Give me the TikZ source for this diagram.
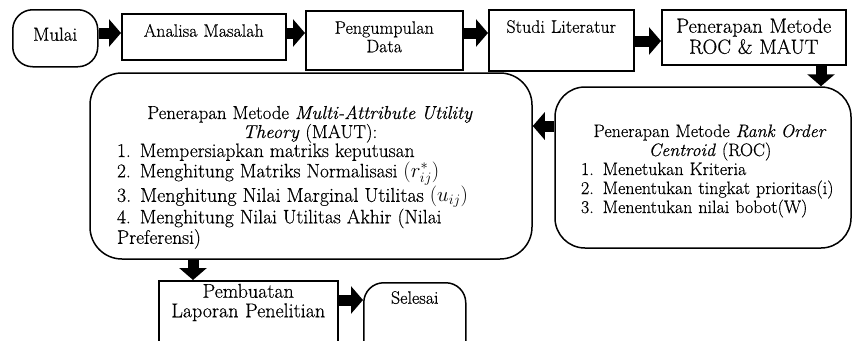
\documentclass[tikz,border=0pt]{standalone}
\usepackage{fontspec}
\setmainfont{Latin Modern Roman}[FakeBold=0.4]
\usetikzlibrary{arrows.meta}

\begin{document}
\begin{tikzpicture}[x=1pt, y=-1pt]
\tikzstyle{every node} = [font = \fontsize{18}{18.5}\selectfont]
\tikzstyle{box} = [draw, line width=1.5pt, anchor=north west, inner sep=0pt, align=center]
\tikzstyle{proc} = [box, text height=23pt]
\tikzstyle{term} = [box, rounded corners=20pt]
\tikzstyle{bigbox} = [draw, line width=1.5pt, inner sep=0pt]
\tikzstyle{listtext} = [inner sep=0pt, anchor=base, align=left, font=\fontsize{18}{19}\selectfont]
\tikzstyle{flow} = [line width=11pt, -{Triangle[width=27pt, length=12pt]}]

\useasboundingbox (0,0) rectangle (853,340);
\clip (0,0) rectangle (853,340);

% top row
\node[term, font=\fontsize{19}{19}\selectfont, text width=85pt, text height=31pt, text depth=26pt] (mulai) at (12,9) {Mulai};
\node[proc, text width=164pt, text depth=23pt] (analisa) at (121,13) {Analisa Masalah};
\node[proc, text width=157pt, text depth=36pt] (pengumpulan) at (305,10) {Pengumpulan\\Data};
\node[proc, text width=145pt, text depth=38pt] (studi) at (488,9) {Studi Literatur};
\node[proc, font=\fontsize{20.5}{21}\selectfont, text width=184pt, text depth=32pt] (penerapan) at (661,9) {Penerapan Metode\\ROC \& MAUT};

% methods
\node[bigbox, rounded corners=32pt, minimum width=442pt, minimum height=186pt] (maut) at (311,166) {};
\node[listtext, text width=386pt] (mauttext) at (310,119)
  {{\centering\fontsize{18.75}{19}\selectfont Penerapan Metode \textit{Multi-Attribute Utility}\\ \textit{Theory} (MAUT):\par}
   {\fontsize{19.5}{19}\selectfont 1. Mempersiapkan matriks keputusan}\\
   {\fontsize{19.5}{19}\selectfont 2. Menghitung Matriks Normalisasi $(r^{*}_{ij})$}\\
   {\fontsize{20}{19}\selectfont 3. Menghitung Nilai Marginal Utilitas $(u_{ij})$}\\
   {\fontsize{19.5}{19}\selectfont 4. Menghitung Nilai Utilitas Akhir (Nilai}\\
   {\fontsize{19.5}{19}\selectfont Preferensi)}};
\node[bigbox, rounded corners=30pt, minimum width=296pt, minimum height=161pt] (roc) at (703,167.5) {};
\node[listtext, text width=258pt] (roctext) at (710,137)
  {{\centering Penerapan Metode \textit{Rank Order}\\ \textit{Centroid} (ROC)\par}
   \mbox{1. Menetukan Kriteria}\\
   \mbox{2. Menentukan tingkat prioritas(i)}\\
   \mbox{3. Menentukan nilai bobot(W)}};

% bottom row
\node[proc, font=\fontsize{20}{19.5}\selectfont, text width=179pt, text height=17pt, text depth=63pt] (pembuatan) at (158,280) {Pembuatan\\Laporan Penelitian};
\node[term, text width=102pt, text height=21pt, text depth=79pt] (selesai) at (363,282) {Selesai};

\coordinate (rowA) at (0,33);
\coordinate (rowB) at (0,41);
\coordinate (rowC) at (0,126);
\coordinate (rowD) at (0,300);
\coordinate (colA) at (821,0);
\coordinate (colB) at (193,0);

\draw [flow] (mulai.east |- rowA) -- (analisa.west |- rowA); %mulai to analisa
\draw [flow] (analisa.east |- rowA) -- (pengumpulan.west |- rowA); %analisa to pengumpulan
\draw [flow] (pengumpulan.east |- rowA) -- (studi.west |- rowA); %pengumpulan to studi
\draw [flow] (studi.east |- rowB) -- (penerapan.west |- rowB); %studi to penerapan
\draw [flow] (penerapan.south -| colA) -- (roc.north -| colA); %penerapan to roc
\draw [flow] (roc.west |- rowC) -- (maut.east |- rowC); %roc to maut
\draw [flow] (maut.south -| colB) -- (pembuatan.north -| colB); %maut to pembuatan
\draw [flow] (pembuatan.east |- rowD) -- (selesai.west |- rowD); %pembuatan to selesai
\end{tikzpicture}
\end{document}
